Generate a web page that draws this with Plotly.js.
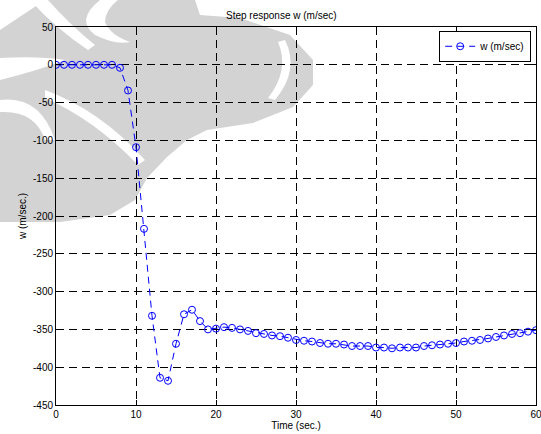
<!DOCTYPE html>
<html><head><meta charset="utf-8">
<script src="https://cdn.plot.ly/plotly-3.0.1.min.js"></script>
<style>html,body{margin:0;padding:0;background:#fff;}#c{width:541px;height:434px;}</style>
</head><body><div id="c"></div>
<script>
const time = [0,1,2,3,4,5,6,7,8,9,10,11,12,13,14,15,16,17,18,19,20,21,22,23,24,25,26,27,28,29,30,31,32,33,34,35,36,37,38,39,40,41,42,43,44,45,46,47,48,49,50,51,52,53,54,55,56,57,58,59,60];
const w = [0,0,0,0,0,0,0,0,-4,-34,-109,-217,-332,-414,-418,-369,-330,-324,-339,-350,-349,-347,-348,-350,-352,-355,-356,-358,-359,-361,-364,-365,-366,-368,-369,-369,-370,-372,-372,-372,-374,-374,-375,-374,-374,-374,-372,-371,-370,-369,-368,-366,-365,-364,-362,-360,-358,-356,-355,-353,-351];
const xTicks = [0,10,20,30,40,50,60];
const yTicks = [50,0,-50,-100,-150,-200,-250,-300,-350,-400,-450];
const seriesName = 'w (m/sec)';

const W = 541, H = 434, ML = 56, MR = 5, MT = 27, MB = 29;
const PW = W - ML - MR, PH = H - MT - MB;
// convert a pixel-space path (decorative watermark) to paper coordinates
function pxPath(s) {
  return s.replace(/(-?\d+(?:\.\d+)?),(-?\d+(?:\.\d+)?)/g, (m, a, b) => {
    const x = (parseFloat(a) - ML) / PW, y = (H - MB - parseFloat(b)) / PH;
    return x.toFixed(4) + ',' + y.toFixed(4);
  });
}
const wmGray = '#d3d3d3';
const wmPaths = [
  {p: 'M0,30 L45,0 L195,0 L200,15 L240,18 L290,35 L313,60 L313,85 L293,107 L253,123 L207,130 L187,140 L167,157 L147,178 L135,200 L110,215 L60,222 L0,222 Z', c: wmGray},
  {p: 'M30,0 L48,0 Q70,25 95,45 L88,50 Q55,28 30,0 Z', c: '#fff'},
  {p: 'M0,58 Q40,56 65,60 Q40,70 0,80 Z', c: '#fff'},
  {p: 'M0,100 Q40,95 55,140 L45,140 Q35,110 0,112 Z', c: '#fff'},
  {p: 'M45,90 Q100,110 145,160 L138,165 Q95,120 45,98 Z', c: '#fff'},
  {p: 'M285,40 Q300,70 275,100 L268,98 Q290,70 278,42 Z', c: '#fff'},
  {p: 'M100,0 Q75,20 95,35 Q115,45 130,42 Q110,35 105,22 Q105,10 118,0 Z', c: '#fff'}
];
const shapes = wmPaths.map(o => ({type: 'path', xref: 'paper', yref: 'paper', layer: 'below',
  path: pxPath(o.p), fillcolor: o.c, line: {width: 0}}));

const fontFam = '"Liberation Sans", Arial, sans-serif';
const axisCommon = {
  showline: true, mirror: 'ticks', linecolor: '#000', linewidth: 1,
  ticks: 'inside', ticklen: 5, tickcolor: '#000',
  showgrid: true, gridcolor: '#000', griddash: '8px,5px', gridwidth: 1,
  zeroline: false, ticklabeloverflow: 'allow',
  tickfont: {family: fontFam, size: 10, color: '#000'}
};
const layout = {
  width: W, height: H,
  margin: {l: ML, r: MR, t: MT, b: MB},
  paper_bgcolor: '#fff', plot_bgcolor: 'rgba(0,0,0,0)',
  shapes: shapes,
  title: {text: 'Step response w (m/sec)', font: {family: fontFam, size: 10, color: '#000'}, x: 0.52, xanchor: 'center', y: 0.965, yanchor: 'middle'},
  xaxis: Object.assign({}, axisCommon, {range: [0, 60], tickvals: xTicks, ticktext: xTicks.map(String),
    title: {text: 'Time (sec.)', font: {family: fontFam, size: 10, color: '#000'}, standoff: 2}}),
  yaxis: Object.assign({}, axisCommon, {range: [-450, 50], tickvals: yTicks, ticktext: yTicks.map(String),
    title: {text: 'w (m/sec.)', font: {family: fontFam, size: 10, color: '#000'}, standoff: 4}}),
  showlegend: true,
  legend: {x: 0.99, y: 0.99, xanchor: 'right', yanchor: 'top', bgcolor: '#fff', bordercolor: '#000', borderwidth: 1,
    font: {family: fontFam, size: 10, color: '#000'}, itemwidth: 30}
};
const trace = {
  x: time, y: w, name: seriesName, type: 'scatter', mode: 'lines+markers',
  line: {color: '#0000ff', width: 1, dash: '7px,5px'},
  marker: {symbol: 'circle-open', size: 7, color: '#0000ff', line: {width: 1, color: '#0000ff'}}
};
Plotly.newPlot('c', [trace], layout, {displayModeBar: false, staticPlot: true});
</script></body></html>
